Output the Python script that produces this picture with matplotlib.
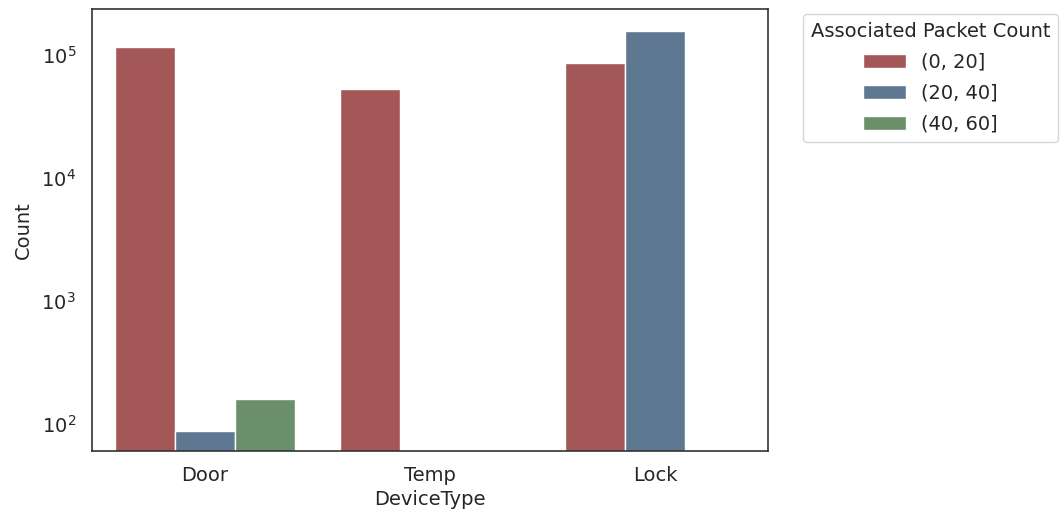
import matplotlib
matplotlib.use("Agg")
import matplotlib.pyplot as plt
import numpy as np
import seaborn as sns

sns.set_style("white")
plt.rcParams['font.family'] = ['DejaVu Sans']

categories = ["Door", "Temp", "Lock"]
bins = ["(0, 20]", "(20, 40]", "(40, 60]"]
counts = {
    "(0, 20]": [116000, 53000, 86500],
    "(20, 40]": [87, 0, 158000],
    "(40, 60]": [159, 0, 0],
}
colors = ["#a35757", "#5e7891", "#6a8f6a"]

fig = plt.figure(figsize=(10.64, 5.17), dpi=100)
ax = fig.add_axes([92/1064, 1-451/517, (768-92)/1064, (451-9)/517])

x = np.arange(len(categories))
w = 0.8 / len(bins)
for i, b in enumerate(bins):
    vals = np.array(counts[b], dtype=float)
    vals[vals <= 0] = np.nan
    ax.bar(x - 0.4 + w/2 + i*w, vals, width=w, color=colors[i],
           edgecolor="white", linewidth=1, label=b)

ax.set_yscale("log")
ax.set_ylim(60, 2.37e5)
ax.set_xlim(-0.5, 2.5)
ax.set_xticks(x)
ax.set_xticklabels(categories)
ax.tick_params(axis="x", labelsize=14, pad=7)
ax.tick_params(axis="y", labelsize=14, pad=8)
ax.set_xlabel("DeviceType", fontsize=14, labelpad=4)
ax.set_ylabel("Count", fontsize=14, labelpad=6)
ax.minorticks_off()
for s in ax.spines.values():
    s.set_color("#333333")
    s.set_linewidth(1.2)

leg = ax.legend(title="Associated Packet Count", loc="upper left",
                bbox_to_anchor=(803/1064, 1-14/517), bbox_transform=fig.transFigure,
                fontsize=14, title_fontsize=14, frameon=True,
                borderaxespad=0, labelspacing=0.62, handlelength=2.2)

fig.savefig("out.png", dpi=100)
